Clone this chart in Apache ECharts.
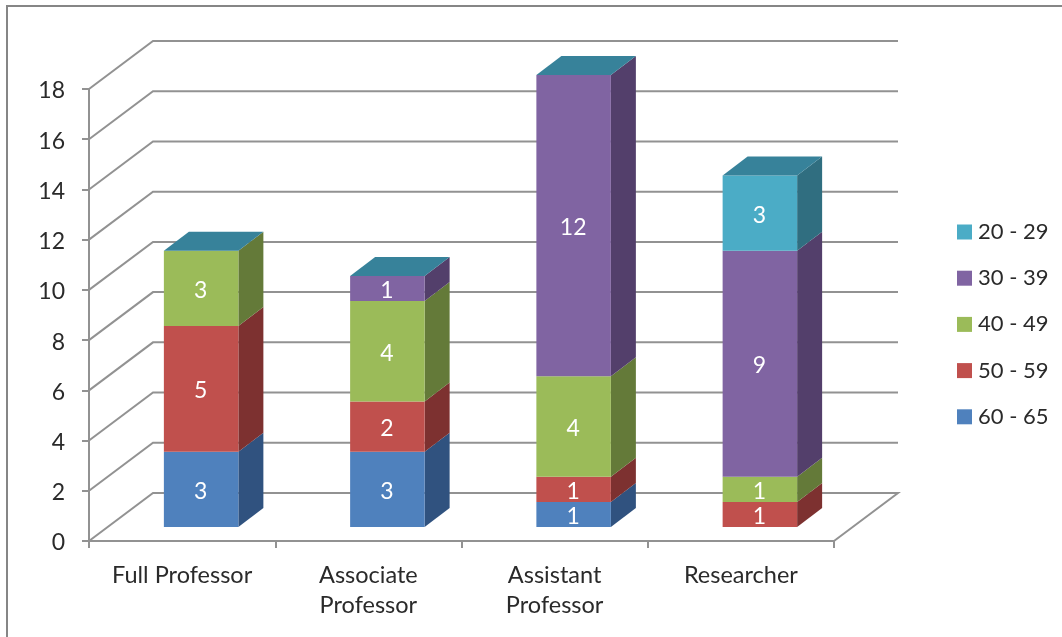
<!DOCTYPE html>
<html>
<head>
<meta charset="utf-8">
<script src="https://cdn.jsdelivr.net/npm/echarts@6/dist/echarts.min.js"></script>
<style>
  html, body { margin: 0; padding: 0; background: #fff; }
  #chart { width: 1062px; height: 637px; }
</style>
</head>
<body>
<div id="chart"></div>
<script>
// Staff counts by rank and age band, stacked from the oldest band upward.
const categories = ['Full Professor', 'Associate\nProfessor', 'Assistant\nProfessor', 'Researcher'];
const age60to65 = [3, 3, 1, 0];
const age50to59 = [5, 2, 1, 1];
const age40to49 = [3, 4, 4, 1];
const age30to39 = [0, 1, 12, 9];
const age20to29 = [0, 0, 0, 3];
const yTicks = [0, 2, 4, 6, 8, 10, 12, 14, 16, 18];

const bands = [
  { name: '60 - 65', values: age60to65, front: '#4f81bd', side: '#30527f' },
  { name: '50 - 59', values: age50to59, front: '#c0504d', side: '#7d3130' },
  { name: '40 - 49', values: age40to49, front: '#9bbb59', side: '#647a39' },
  { name: '30 - 39', values: age30to39, front: '#8064a2', side: '#533f6b' },
  { name: '20 - 29', values: age20to29, front: '#4bacc6', side: '#306e80' }
];
const topFaceColor = '#37829a';

// Oblique projection of the chart box and of the bars inside it.
const WALL_DX = 64, WALL_DY = 48;
const BAR_DX = 25, BAR_DY = 19;
const BAR_INSET_X = 19, BAR_INSET_Y = 14;
const BAR_WIDTH_RATIO = 0.4;
const LINE_COLOR = '#929292';
const TEXT_COLOR = '#2a2a2a';
const FONT = 'Lato';

function stackBase(bandIndex, catIndex) {
  let sum = 0;
  for (let b = 0; b < bandIndex; b++) sum += bands[b].values[catIndex];
  return sum;
}

function quad(points, color) {
  return { type: 'polygon', shape: { points }, style: { fill: color }, silent: true };
}

function renderBar(bandIndex) {
  return function (params, api) {
    const cat = api.value(0), value = api.value(1);
    const base = stackBase(bandIndex, cat);
    const band = bands[bandIndex];
    const half = api.size([1, 0])[0] * BAR_WIDTH_RATIO / 2;
    const bottom = api.coord([cat, base]);
    const top = api.coord([cat, base + value]);
    const x0 = bottom[0] + BAR_INSET_X - half, x1 = bottom[0] + BAR_INSET_X + half;
    const y0 = bottom[1] - BAR_INSET_Y, y1 = top[1] - BAR_INSET_Y;
    const children = [];
    if (value > 0) {
      children.push(quad([[x1, y0], [x1 + BAR_DX, y0 - BAR_DY], [x1 + BAR_DX, y1 - BAR_DY], [x1, y1]], band.side));
      children.push(quad([[x0, y0], [x1, y0], [x1, y1], [x0, y1]], band.front));
      children.push({
        type: 'text',
        silent: true,
        style: {
          x: (x0 + x1) / 2 - 0.5, y: (y0 + y1) / 2 + 2, text: String(value),
          align: 'center', verticalAlign: 'middle',
          fill: '#ffffff', font: '23px ' + FONT
        }
      });
    }
    // The uppermost band caps every column, even where its own value is zero.
    if (bandIndex === bands.length - 1) {
      children.push(quad([[x0, y1], [x1, y1], [x1 + BAR_DX, y1 - BAR_DY], [x0 + BAR_DX, y1 - BAR_DY]], topFaceColor));
    }
    return { type: 'group', children };
  };
}

// Gridlines run up the side wall and across the back wall; the zero line also closes the floor.
function renderWall(params, api) {
  const v = api.value(0);
  const rect = params.coordSys;
  const y = api.coord([0, v])[1];
  const left = rect.x, right = rect.x + rect.width;
  const pts = [[left, y], [left + WALL_DX, y - WALL_DY], [right + WALL_DX, y - WALL_DY]];
  if (v === 0) pts.push([right, y]);
  return {
    type: 'polyline', silent: true,
    shape: { points: pts },
    style: { stroke: LINE_COLOR, lineWidth: 2, fill: null }
  };
}

const series = [{
  type: 'custom', name: 'walls', silent: true, clip: false, z: 1,
  coordinateSystem: 'cartesian2d',
  renderItem: renderWall,
  encode: { y: 0 },
  data: yTicks.map(v => [v])
}].concat(bands.map((band, b) => ({
  type: 'custom', name: band.name, silent: true, clip: false, z: 2 + b,
  coordinateSystem: 'cartesian2d',
  renderItem: renderBar(b),
  encode: { x: 0, y: 1 },
  itemStyle: { color: band.front },
  data: band.values.map((v, i) => [i, v])
})));

const chart = echarts.init(document.getElementById('chart'), null, { renderer: 'canvas' });
chart.setOption({
  animation: false,
  backgroundColor: '#ffffff',
  grid: { left: 89, right: 228, top: 89, bottom: 96, containLabel: false },
  xAxis: {
    type: 'category',
    data: categories,
    axisLine: { lineStyle: { color: LINE_COLOR, width: 2 } },
    axisTick: { show: true, length: 7, lineStyle: { color: LINE_COLOR, width: 2 } },
    axisLabel: { color: TEXT_COLOR, fontFamily: FONT, fontSize: 23.5, lineHeight: 30, margin: 19, interval: 0 },
    splitLine: { show: false }
  },
  yAxis: {
    type: 'value',
    min: 0, max: 18, interval: 2,
    axisLine: { show: true, lineStyle: { color: LINE_COLOR, width: 2 } },
    axisTick: { show: true, length: 7, lineStyle: { color: LINE_COLOR, width: 2 } },
    axisLabel: {
      margin: 24,
      formatter: '{n|{value}}',
      rich: { n: { color: TEXT_COLOR, fontFamily: FONT, fontSize: 23, padding: [4, 0, 0, 0] } }
    },
    splitLine: { show: false }
  },
  legend: {
    orient: 'vertical',
    left: 957, top: 219,
    icon: 'rect',
    itemWidth: 15, itemHeight: 15, itemGap: 20.2,
    padding: 0,
    selectedMode: false,
    data: bands.map(b => b.name).reverse(),
    textStyle: { color: TEXT_COLOR, fontFamily: FONT, fontSize: 22, lineHeight: 24, padding: [2, 0, 0, 1] }
  },
  // Chart frame: only the top and left edges fall inside the page.
  graphic: [{
    type: 'polyline', silent: true, z: 100,
    shape: { points: [[7, 637], [7, 6], [1062, 6]] },
    style: { stroke: '#868686', lineWidth: 2, fill: null }
  }],
  series
});
</script>
</body>
</html>
